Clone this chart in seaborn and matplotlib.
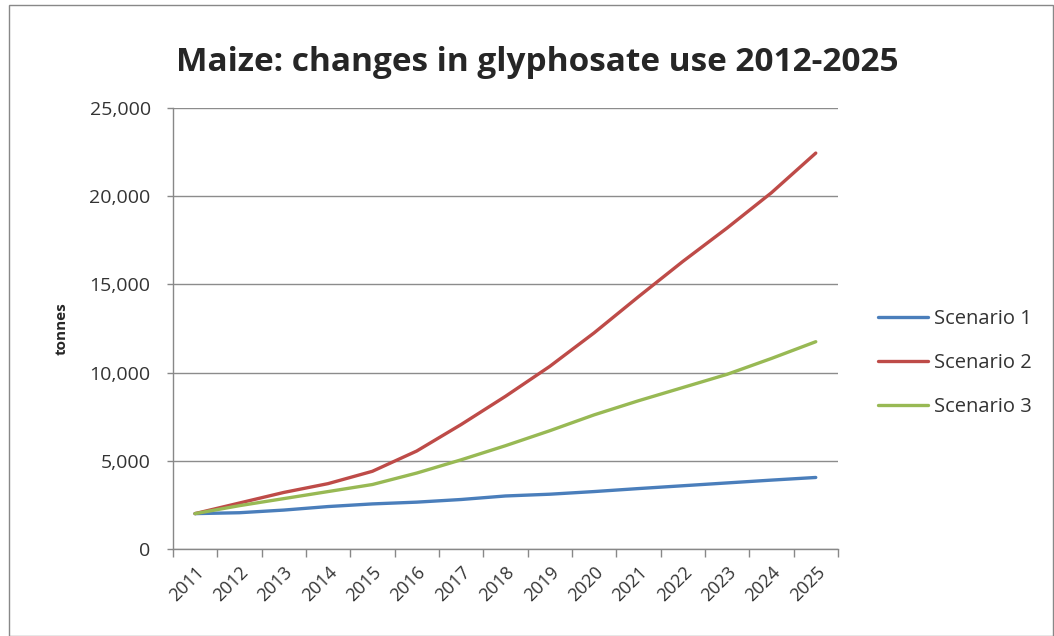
import pandas as pd
import numpy as np
import matplotlib.pyplot as plt
import matplotlib.patches as mpatches
import seaborn as sns

years = list(range(2011, 2026))
scenario_1 = [2000, 2050, 2200, 2400, 2550, 2650, 2800, 3000, 3100, 3250, 3420, 3580, 3740, 3900, 4050]
scenario_2 = [2000, 2600, 3200, 3700, 4400, 5550, 7050, 8650, 10350, 12250, 14300, 16300, 18200, 20200, 22450]
scenario_3 = [2000, 2450, 2850, 3250, 3650, 4300, 5050, 5850, 6700, 7600, 8400, 9150, 9900, 10800, 11750]

df = pd.DataFrame({
    'year': years * 3,
    'tonnes': scenario_1 + scenario_2 + scenario_3,
    'scenario': ['Scenario 1'] * 15 + ['Scenario 2'] * 15 + ['Scenario 3'] * 15,
})

sns.set_style('white')
plt.rcParams['font.family'] = ['Open Sans', 'DejaVu Sans']

fig = plt.figure(figsize=(10.54, 6.36), dpi=100)
ax = fig.add_axes([0.164, 0.137, 0.631, 0.693])

palette = {'Scenario 1': '#4a7ebb', 'Scenario 2': '#be4b48', 'Scenario 3': '#98b954'}
sns.lineplot(data=df, x='year', y='tonnes', hue='scenario', palette=palette,
             linewidth=2.4, ax=ax)

ax.set_xlim(2010.5, 2025.5)
ax.set_ylim(0, 25000)
ax.set_yticks(range(0, 25001, 5000))
ax.set_yticklabels([f'{v:,}' for v in range(0, 25001, 5000)], fontsize=14, color='#333333')
ax.set_xticks(years)
ax.set_xticklabels([str(y) for y in years], rotation=45, ha='right',
                   rotation_mode='anchor', fontsize=13, color='#333333')
ax.set_xticks(np.arange(2010.5, 2025.6, 1), minor=True)
ax.tick_params(axis='x', which='major', length=0, pad=10)
ax.tick_params(axis='x', which='minor', length=6, color='#888888', width=1, direction='out', bottom=True)
ax.tick_params(axis='y', length=4, pad=12, color='#888888', width=1, direction='out', left=True)

ax.grid(axis='y', color='#8c8c8c', linewidth=1)
ax.set_axisbelow(True)
for side in ['top', 'right']:
    ax.spines[side].set_visible(False)
for side in ['left', 'bottom']:
    ax.spines[side].set_color('#888888')
    ax.spines[side].set_linewidth(1)

ax.set_xlabel('')
ax.set_ylabel('tonnes', fontsize=11, fontweight='bold', labelpad=15)

fig.suptitle('Maize: changes in glyphosate use 2012-2025', x=0.51, y=0.928,
             fontsize=24, fontweight='bold')

leg = ax.legend(loc='center left', bbox_to_anchor=(0.833, 0.429), bbox_transform=fig.transFigure,
                frameon=False, fontsize=14.5, handlelength=2.5, handletextpad=0.3,
                labelspacing=1.2, borderaxespad=0, borderpad=0)
for t in leg.get_texts():
    t.set_color('#333333')

fig.patches.append(mpatches.Rectangle((0.009, 0.0), 0.99, 0.992, transform=fig.transFigure,
                                      fill=False, edgecolor='#888888', linewidth=1))

plt.savefig('out.png', dpi=100)
